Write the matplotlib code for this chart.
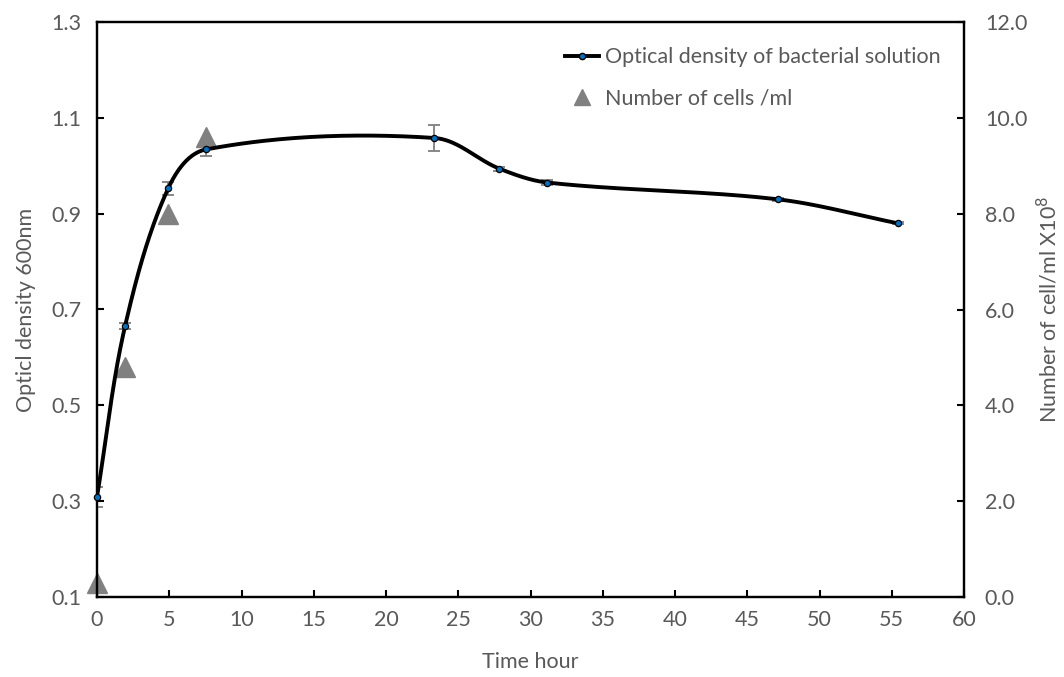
import numpy as np
import matplotlib
matplotlib.use("Agg")
import matplotlib.pyplot as plt
from matplotlib.lines import Line2D

# Growth measurements
time_h = [0, 1.94, 4.93, 7.54, 23.34, 27.84, 31.16, 47.1, 55.4]
od600 = [0.309, 0.665, 0.953, 1.034, 1.058, 0.994, 0.965, 0.930, 0.880]
od_err = [0.021, 0.006, 0.014, 0.013, 0.027, 0.004, 0.005, 0.003, 0.002]

cell_time_h = [0, 1.94, 4.93, 7.54]
cells_e8 = [0.3, 4.8, 8.0, 9.6]

x_ticks = list(range(0, 61, 5))
od_ticks = [0.1, 0.3, 0.5, 0.7, 0.9, 1.1, 1.3]
cell_ticks = [0.0, 2.0, 4.0, 6.0, 8.0, 10.0, 12.0]

TEXT = "#595959"
FS = 15.5
plt.rcParams["font.family"] = ["Lato", "DejaVu Sans"]


def smooth_curve(ax, xs, ys, n=60):
    """Smoothed line through the points, built as cubic Beziers in display
    space: tangent along the neighbour chord, handles a third of each segment."""
    P = ax.transData.transform(np.column_stack([xs, ys]).astype(float))
    m = len(P)
    tang = np.zeros_like(P)
    for i in range(m):
        a = P[max(i - 1, 0)]
        b = P[min(i + 1, m - 1)]
        d = b - a
        tang[i] = d / np.hypot(*d)
    t = np.linspace(0, 1, n)[:, None]
    out = []
    for i in range(m - 1):
        p1, p2 = P[i], P[i + 1]
        L = np.hypot(*(p2 - p1))
        c1 = p1 + tang[i] * L / 3.0
        c2 = p2 - tang[i + 1] * L / 3.0
        seg = ((1 - t) ** 3) * p1 + 3 * ((1 - t) ** 2) * t * c1 \
            + 3 * (1 - t) * t ** 2 * c2 + t ** 3 * p2
        out.append(seg if i == 0 else seg[1:])
    out = ax.transData.inverted().transform(np.vstack(out))
    return out[:, 0], out[:, 1]


fig = plt.figure(figsize=(10.64, 6.77), dpi=100)
ax = fig.add_axes([97 / 1064, 1 - 597 / 677, 867 / 1064, 575 / 677])
ax2 = ax.twinx()

ax.set_xlim(0, 60)
ax.set_ylim(0.1, 1.3)
ax2.set_ylim(0, 12)

# cell counts on the secondary axis, kept underneath the OD curve
ax2.plot(cell_time_h, cells_e8, linestyle="none", marker="^", markersize=14,
         color="#808080", markeredgecolor="#808080", clip_on=False)
ax.set_zorder(ax2.get_zorder() + 1)
ax.patch.set_visible(False)

sx, sy = smooth_curve(ax, time_h, od600)
ax.plot(sx, sy, color="black", linewidth=2.8, solid_capstyle="round", zorder=3)
ax.errorbar(time_h, od600, yerr=od_err, fmt="none", ecolor="#7f7f7f",
            elinewidth=1.3, capsize=4.5, capthick=1.3, zorder=2)
ax.plot(time_h, od600, linestyle="none", marker="o", markersize=4.5,
        markerfacecolor="#0070C0", markeredgecolor="black",
        markeredgewidth=0.9, zorder=4, clip_on=False)

ax.set_xticks(x_ticks)
ax.set_yticks(od_ticks)
ax2.set_yticks(cell_ticks)
ax.set_yticklabels([f"{v:.1f}" for v in od_ticks])
ax2.set_yticklabels([f"{v:.1f}" for v in cell_ticks])

for a in (ax, ax2):
    for s in a.spines.values():
        s.set_color("black")
        s.set_linewidth(1.6)

ax.tick_params(axis="x", direction="in", length=5, width=1.5, pad=9,
               labelsize=FS, labelcolor=TEXT, color="black")
ax.tick_params(axis="y", direction="in", length=5, width=1.5, pad=11,
               labelsize=FS, labelcolor=TEXT, color="black")
ax2.tick_params(axis="y", direction="in", length=5, width=1.5, pad=15,
                labelsize=FS, labelcolor=TEXT, color="black")

ax.set_xlabel("Time hour", fontsize=FS, color=TEXT, labelpad=16)
ax.set_ylabel("Opticl density 600nm", fontsize=FS, color=TEXT, labelpad=11)
ax2.set_ylabel("Number of cell/ml X10$^{8}$", fontsize=FS, color=TEXT,
               labelpad=6)

handles = [
    Line2D([], [], color="black", linewidth=2.8, marker="o", markersize=4.5,
           markerfacecolor="#0070C0", markeredgecolor="black"),
    Line2D([], [], linestyle="none", marker="^", markersize=11,
           color="#808080"),
]
ax.legend(handles, ["Optical density of bacterial solution",
                    "Number of cells /ml"],
          loc="upper right", bbox_to_anchor=(0.995, 0.99), frameon=False,
          fontsize=FS, labelcolor=TEXT, handlelength=1.6, handletextpad=0.25,
          labelspacing=1.0)

fig.savefig("out.png", dpi=100)
